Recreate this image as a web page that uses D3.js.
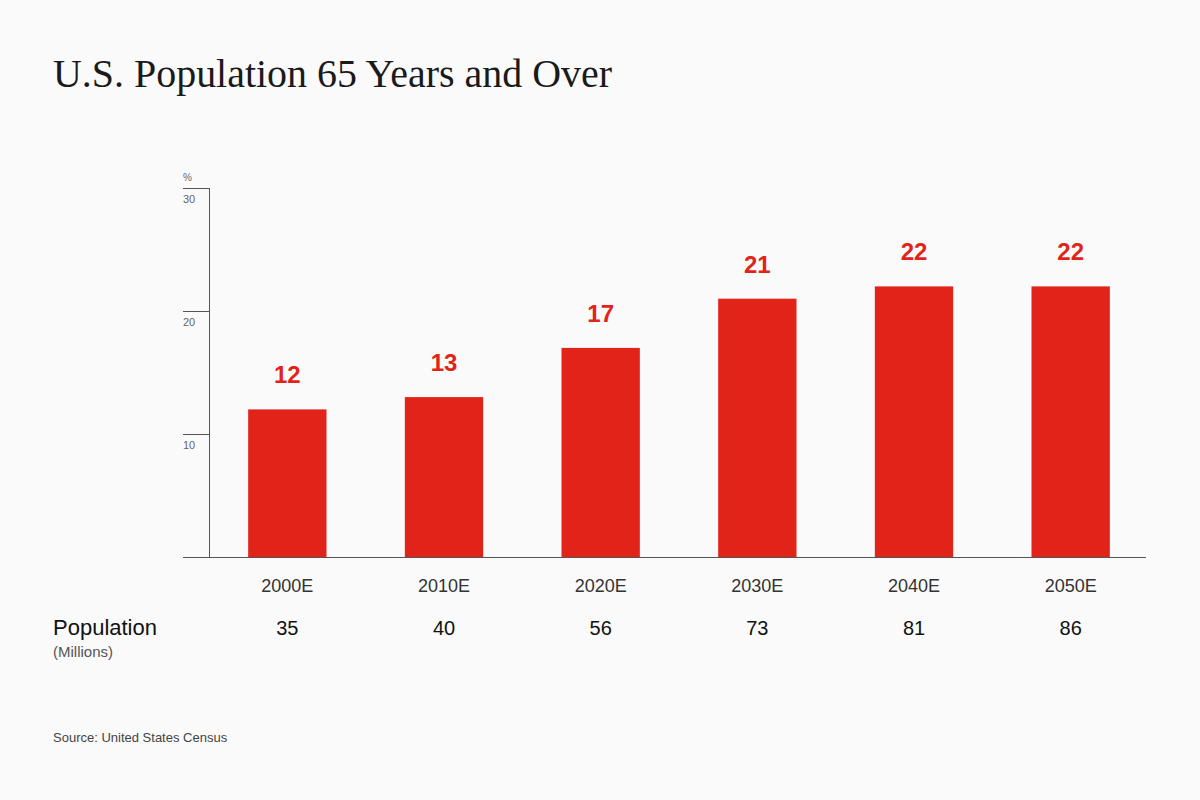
<!DOCTYPE html>
<html>
<head>
<meta charset="utf-8">
<script src="https://cdn.jsdelivr.net/npm/d3@7/dist/d3.min.js"></script>
<style>
  html, body { margin: 0; padding: 0; background: #fafafa; }
  svg { display: block; }
</style>
</head>
<body>
<svg id="chart" width="1200" height="800"></svg>
<script>
const categories = ["2000E", "2010E", "2020E", "2030E", "2040E", "2050E"];
const percentValues = [12, 13, 17, 21, 22, 22];
const populationMillions = [35, 40, 56, 73, 81, 86];
const yTicks = [10, 20, 30];

const svg = d3.select("#chart");
svg.append("rect").attr("width", 1200).attr("height", 800).attr("fill", "#fafafa");

const x = d3.scaleBand().domain(categories).range([209, 1149]).paddingInner(0.5).paddingOuter(0.25);
const y = d3.scaleLinear().domain([0, 30]).range([557, 188]);

// Title
svg.append("text")
  .attr("x", 53).attr("y", 87)
  .attr("font-family", "'Liberation Serif', 'DejaVu Serif', serif")
  .attr("font-size", 41)
  .attr("fill", "#1a1a1a")
  .attr("textLength", 559).attr("lengthAdjust", "spacingAndGlyphs")
  .text("U.S. Population 65 Years and Over");

// Y axis line
svg.append("line")
  .attr("x1", 209.5).attr("x2", 209.5)
  .attr("y1", y(30)).attr("y2", y(0))
  .attr("stroke", "#555").attr("stroke-width", 1);

// Y ticks
const tickG = svg.append("g");
yTicks.forEach(t => {
  tickG.append("line")
    .attr("x1", 183).attr("x2", 209.5)
    .attr("y1", Math.round(y(t)) + 0.5).attr("y2", Math.round(y(t)) + 0.5)
    .attr("stroke", "#555").attr("stroke-width", 1);
  tickG.append("text")
    .attr("x", 183).attr("y", y(t) + 15)
    .attr("font-family", "'Liberation Sans', Arial, sans-serif")
    .attr("font-size", 11)
    .attr("fill", "#666")
    .text(t);
});
svg.append("text")
  .attr("x", 183).attr("y", y(30) - 7)
  .attr("font-family", "'Liberation Sans', Arial, sans-serif")
  .attr("font-size", 10)
  .attr("fill", "#666")
  .text("%");

// Bars
svg.append("g").selectAll("rect")
  .data(categories)
  .join("rect")
  .attr("x", d => x(d))
  .attr("width", x.bandwidth())
  .attr("y", (d, i) => y(percentValues[i]))
  .attr("height", (d, i) => y(0) - y(percentValues[i]))
  .attr("fill", "#e2231a");

// Value labels
svg.append("g").selectAll("text")
  .data(categories)
  .join("text")
  .attr("x", d => x(d) + x.bandwidth() / 2)
  .attr("y", (d, i) => y(percentValues[i]) - 26)
  .attr("text-anchor", "middle")
  .attr("font-family", "'Liberation Sans', Arial, sans-serif")
  .attr("font-weight", "bold")
  .attr("font-size", 24)
  .attr("fill", "#e2231a")
  .text((d, i) => percentValues[i]);

// Baseline
svg.append("line")
  .attr("x1", 183).attr("x2", 1146)
  .attr("y1", 557.5).attr("y2", 557.5)
  .attr("stroke", "#555").attr("stroke-width", 1);

// X labels
svg.append("g").selectAll("text")
  .data(categories)
  .join("text")
  .attr("x", d => x(d) + x.bandwidth() / 2)
  .attr("y", 592)
  .attr("text-anchor", "middle")
  .attr("font-family", "'Liberation Sans', Arial, sans-serif")
  .attr("font-size", 18)
  .attr("fill", "#333")
  .text(d => d);

// Population row
svg.append("text")
  .attr("x", 53).attr("y", 635)
  .attr("font-family", "'Liberation Sans', Arial, sans-serif")
  .attr("font-size", 22)
  .attr("fill", "#111")
  .text("Population");
svg.append("text")
  .attr("x", 53).attr("y", 657)
  .attr("font-family", "'Liberation Sans', Arial, sans-serif")
  .attr("font-size", 15)
  .attr("fill", "#555")
  .text("(Millions)");
svg.append("g").selectAll("text")
  .data(categories)
  .join("text")
  .attr("x", d => x(d) + x.bandwidth() / 2)
  .attr("y", 635)
  .attr("text-anchor", "middle")
  .attr("font-family", "'Liberation Sans', Arial, sans-serif")
  .attr("font-size", 20)
  .attr("fill", "#111")
  .text((d, i) => populationMillions[i]);

// Source
svg.append("text")
  .attr("x", 53).attr("y", 742)
  .attr("font-family", "'Liberation Sans', Arial, sans-serif")
  .attr("font-size", 13)
  .attr("fill", "#444")
  .text("Source: United States Census");
</script>
</body>
</html>
